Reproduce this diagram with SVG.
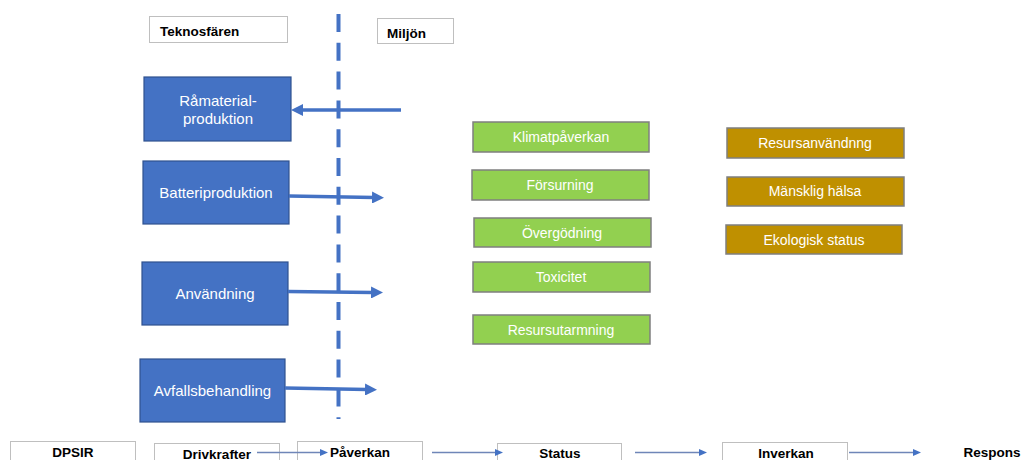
<svg xmlns="http://www.w3.org/2000/svg" width="1021" height="460" viewBox="0 0 1021 460">
<defs>
<marker id="bigArrow" markerUnits="userSpaceOnUse" markerWidth="12" markerHeight="12" refX="2" refY="6" orient="auto">
<path d="M0,0 L12,6 L0,12 z" fill="#4472C4"/>
</marker>
<marker id="smallArrow" markerUnits="userSpaceOnUse" markerWidth="8" markerHeight="7" refX="1" refY="3.5" orient="auto">
<path d="M0,0 L8,3.5 L0,7 z" fill="#4472C4"/>
</marker>
<style>
.lbl{fill:#fff;stroke:#BFBFBF;stroke-width:1}
.lt{font-family:"Liberation Sans",Arial,sans-serif;font-weight:bold;font-size:13.5px;fill:#000}
.blue{fill:#4472C4;stroke:#2F528F;stroke-width:1.2}
.bt{font-family:"Liberation Sans",Arial,sans-serif;font-size:15px;fill:#fff;text-anchor:middle}
.green{fill:#92D050;stroke:#7F7F7F;stroke-width:1.5}
.gold{fill:#BF9000;stroke:#7F7F7F;stroke-width:1.5}
.ct{font-family:"Liberation Sans",Arial,sans-serif;font-size:14px;fill:#fff;text-anchor:middle}
.conn{stroke:#4472C4;stroke-width:3.5;fill:none;marker-end:url(#bigArrow)}
.thin{stroke:#6F86B8;stroke-width:1.3;fill:none;marker-end:url(#smallArrow)}
</style>
</defs>
<rect width="1021" height="460" fill="#fff"/>

<g id="header-teknosfaren">
<rect class="lbl" x="149.5" y="16.5" width="138" height="26"/>
<text class="lt" x="160" y="36">Teknosfären</text>
</g>
<g id="header-miljon">
<rect class="lbl" x="377.5" y="18.5" width="76" height="25"/>
<text class="lt" x="387" y="38">Miljön</text>
</g>

<g id="boundary">
<line x1="338.5" y1="14" x2="338.5" y2="419" stroke="#4472C4" stroke-width="4" stroke-dasharray="18 10.8"/>
</g>

<g id="node-ramaterial">
<rect class="blue" x="144" y="77" width="147" height="64"/>
<text class="bt" x="218" y="106">Råmaterial-</text>
<text class="bt" x="218" y="124">produktion</text>
</g>
<g id="node-batteri">
<rect class="blue" x="143" y="161" width="146" height="63"/>
<text class="bt" x="216" y="198">Batteriproduktion</text>
</g>
<g id="node-anvandning">
<rect class="blue" x="142" y="262" width="146" height="63"/>
<text class="bt" x="215" y="299">Användning</text>
</g>
<g id="node-avfall">
<rect class="blue" x="140" y="359" width="145" height="63"/>
<text class="bt" x="212.5" y="396">Avfallsbehandling</text>
</g>

<g id="node-klimat">
<rect class="green" x="473" y="122" width="176" height="30"/>
<text class="ct" x="561" y="142">Klimatpåverkan</text>
</g>
<g id="node-forsurning">
<rect class="green" x="472" y="170" width="177" height="30"/>
<text class="ct" x="560" y="190">Försurning</text>
</g>
<g id="node-overgodning">
<rect class="green" x="474" y="218" width="177" height="29"/>
<text class="ct" x="562" y="238">Övergödning</text>
</g>
<g id="node-toxicitet">
<rect class="green" x="473" y="262" width="177" height="30"/>
<text class="ct" x="561" y="282">Toxicitet</text>
</g>
<g id="node-resursutarmning">
<rect class="green" x="473" y="315" width="177" height="29"/>
<text class="ct" x="561" y="335">Resursutarmning</text>
</g>

<g id="node-resursanvandning">
<rect class="gold" x="727" y="128" width="177" height="30"/>
<text class="ct" x="815" y="148">Resursanvändnng</text>
</g>
<g id="node-halsa">
<rect class="gold" x="727" y="177" width="177" height="29"/>
<text class="ct" x="815" y="196">Mänsklig hälsa</text>
</g>
<g id="node-ekologisk">
<rect class="gold" x="726" y="225" width="176" height="29"/>
<text class="ct" x="814" y="245">Ekologisk status</text>
</g>

<g id="dpsir-dpsir">
<rect class="lbl" x="10.5" y="441.5" width="125" height="30"/>
<text class="lt" x="73" y="457" text-anchor="middle">DPSIR</text>
</g>
<g id="dpsir-drivkrafter">
<rect class="lbl" x="154.5" y="443.5" width="125" height="30"/>
<text class="lt" x="217" y="459" text-anchor="middle">Drivkrafter</text>
</g>
<g id="dpsir-paverkan">
<rect class="lbl" x="297.5" y="441.5" width="125" height="30"/>
<text class="lt" x="360" y="457" text-anchor="middle">Påverkan</text>
</g>
<g id="dpsir-status">
<rect class="lbl" x="497.5" y="443.5" width="124" height="30"/>
<text class="lt" x="560" y="458" text-anchor="middle">Status</text>
</g>
<g id="dpsir-inverkan">
<rect class="lbl" x="722.5" y="442.5" width="125" height="30"/>
<text class="lt" x="786" y="458" text-anchor="middle">Inverkan</text>
</g>
<g id="dpsir-respons">
<text class="lt" x="992" y="457" text-anchor="middle">Respons</text>
</g>

<g id="connectors">
<line class="conn" x1="401" y1="110" x2="301" y2="110"/>
<line class="conn" x1="289" y1="196" x2="374" y2="197.5"/>
<line class="conn" x1="288" y1="291.5" x2="373" y2="292.5"/>
<line class="conn" x1="285" y1="388" x2="367" y2="389.5"/>
<line class="thin" x1="257" y1="452.5" x2="321" y2="452.5"/>
<line class="thin" x1="432" y1="452.5" x2="496" y2="452.5"/>
<line class="thin" x1="635" y1="452.5" x2="700" y2="452.5"/>
<line class="thin" x1="849" y1="452.5" x2="914" y2="452.5"/>
</g>
</svg>
